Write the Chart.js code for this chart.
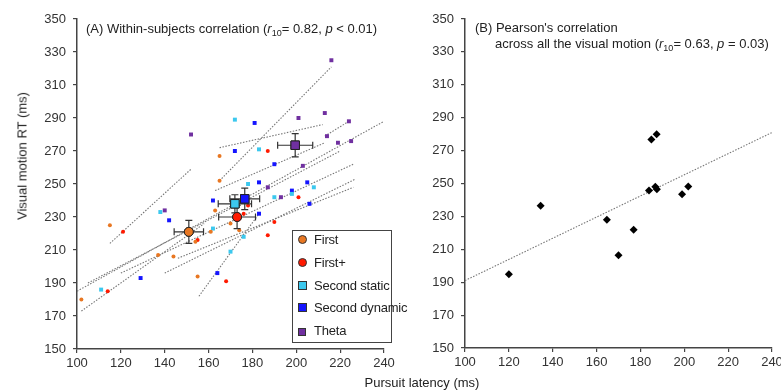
<!DOCTYPE html>
<html>
<head>
<meta charset="utf-8">
<script src="https://cdn.jsdelivr.net/npm/chart.js@4.4.1/dist/chart.umd.min.js"></script>
<style>
  body { margin: 0; background: #fff; width: 781px; height: 391px; overflow: hidden; position: relative;
         font-family: 'Liberation Sans', Arial, sans-serif; color: #222; }
  #wrapA { position: absolute; left: 0; top: 0; }
  #wrapB { position: absolute; left: 390px; top: 0; }
  .note { position: absolute; font-size: 13px; white-space: nowrap; line-height: 15px; }
  .note sub { font-size: 9px; vertical-align: -3px; line-height: 0; }
  #ytitle { position: absolute; left: 22px; top: 156px; font-size: 13px; white-space: nowrap;
            transform: translate(-50%, -50%) rotate(-90deg); }
  #xtitle { position: absolute; left: 422px; top: 382px; font-size: 13px; white-space: nowrap;
            transform: translate(-50%, -50%); }
  #legend { position: absolute; left: 292px; top: 230px; width: 100px; height: 113px;
            border: 1px solid #444; background: #fff; box-sizing: border-box; }
  .item { position: absolute; left: 5px; font-size: 13px; white-space: nowrap; height: 16px; line-height: 16px; }
  .mk { position: absolute; left: 0; top: 3px; width: 9px; height: 9px; border: 1px solid #333; box-sizing: border-box; }
  .item span.t { position: absolute; left: 16px; top: 0; letter-spacing: -0.2px; }
</style>
</head>
<body>
<div id="wrapA"><canvas id="chartA" width="400" height="391"></canvas></div>
<div id="wrapB"><canvas id="chartB" width="400" height="391"></canvas></div>

<div class="note" style="left:86px; top:21px;">(A) Within-subjects correlation (<i>r</i><sub>10</sub>= 0.82, <i>p</i> &lt; 0.01)</div>
<div class="note" style="left:475px; top:20px;">(B) Pearson's correlation</div>
<div class="note" style="left:495px; top:36px;">across all the visual motion (<i>r</i><sub>10</sub>= 0.63, <i>p</i> = 0.03)</div>
<div id="ytitle">Visual motion RT (ms)</div>
<div id="xtitle">Pursuit latency (ms)</div>

<div id="legend">
  <div class="item" style="top:1px"><div class="mk" style="background:#E87722;border-radius:50%"></div><span class="t">First</span></div>
  <div class="item" style="top:24px"><div class="mk" style="background:#FF1A00;border-radius:50%"></div><span class="t">First+</span></div>
  <div class="item" style="top:47px"><div class="mk" style="background:#3CC8EE"></div><span class="t">Second static</span></div>
  <div class="item" style="top:69px"><div class="mk" style="background:#1515FF"></div><span class="t">Second dynamic</span></div>
  <div class="item" style="top:92px"><div class="mk" style="background:#7030A0;width:8px;height:8px;top:5px"></div><span class="t">Theta</span></div>
</div>

<script>
// ---- data (A) : individual subjects, pursuit latency (x) vs visual motion RT (y)
const firstX  = [102, 115, 137, 144, 154, 155, 161, 163, 165, 165, 170, 174];
const firstY  = [180, 225, 207, 206, 215, 194, 221, 234, 267, 252, 226, 222];
const firstPX = [114, 121, 155, 168, 178, 176, 187, 187, 190, 201];
const firstPY = [185, 221, 216, 191, 237, 232, 219, 270, 227, 242];
const staticX = [172, 178, 138, 162, 176, 170, 111, 183, 190, 198, 208];
const staticY = [289, 250, 233, 223, 218, 209, 186, 271, 242, 244, 248];
const dynX    = [181, 172, 162, 142, 129, 164, 183, 190, 205, 198, 206, 183];
const dynY    = [287, 270, 240, 228, 193, 196, 251, 262, 251, 246, 238, 232];
const thetaX  = [152, 216, 201, 213, 224, 140, 187, 214, 219, 225, 203, 193];
const thetaY  = [280, 325, 290, 293, 288, 234, 248, 279, 275, 276, 261, 242];

// group means with SE  [x, y, errX, errY]
const meanFirst  = [151, 221, 6.7, 7];
const meanFirstP = [173, 230, 8.4, 7];
const meanStatic = [172, 238, 7.6, 5.5];
const meanDyn    = [176.5, 241, 6.8, 6.5];
const meanTheta  = [199.5, 273.5, 8, 7];

// per-subject regression lines [x1, y1, x2, y2]
const subjectLines = [
  [100, 185, 240, 288],
  [102, 173, 158, 226],
  [115, 214, 152, 259],
  [165, 252, 216, 321],
  [165, 272, 212, 286],
  [213, 279, 224, 288],
  [155.6, 182, 183, 232],
  [120, 196, 226, 262],
  [140, 196, 227, 253],
  [146, 205, 226, 248],
  [105, 190, 220, 270],
  [163, 246, 213, 275]
];

// ---- data (B) : per-motion means across subjects
const motionX = [120, 134.5, 164.7, 170, 176.9, 183.9, 185, 187.4, 186.8, 187.5, 199, 201.8];
const motionY = [194.8, 236.5, 228, 206.4, 221.9, 245.8, 276.7, 279.9, 248, 246.5, 243.5, 248.2];
const fitB = [100, 191, 240, 281];

const xTickMin = 100, xTickMax = 240, xStep = 20;
const yTickMin = 150, yTickMax = 350, yStep = 20;

const FONT = "'Liberation Sans', Arial, sans-serif";
const AXIS = '#444';

function pts(xs, ys) { return xs.map((x, i) => ({ x: x, y: ys[i] })); }

function axes(yWidth, xHeight) {
  const common = {
    type: 'linear',
    border: { display: true, color: AXIS, width: 1.5 },
    grid: { display: true, drawOnChartArea: false, drawTicks: true, tickLength: 4, color: AXIS, lineWidth: 1.2 },
    ticks: { color: '#333', font: { family: FONT, size: 13 } }
  };
  return {
    x: Object.assign({}, common, {
      min: xTickMin, max: xTickMax,
      ticks: Object.assign({}, common.ticks, { stepSize: xStep, padding: 3, maxRotation: 0 }),
      afterFit: s => { s.height = xHeight; }
    }),
    y: Object.assign({}, common, {
      min: yTickMin, max: yTickMax,
      ticks: Object.assign({}, common.ticks, { stepSize: yStep, padding: 7 }),
      afterFit: s => { s.width = yWidth; }
    })
  };
}

function lineSet(l) {
  return {
    type: 'line', data: [{ x: l[0], y: l[1] }, { x: l[2], y: l[3] }],
    borderColor: '#777', borderWidth: 1.1, borderDash: [1.5, 1.5],
    pointRadius: 0, fill: false, order: 3
  };
}

function dots(xs, ys, color, style, r) {
  return {
    type: 'scatter', data: pts(xs, ys), backgroundColor: color, borderColor: color,
    borderWidth: 0, pointStyle: style, pointRadius: r, order: 2
  };
}

function meanSet(m, color, style, r) {
  return {
    type: 'scatter', data: [{ x: m[0], y: m[1], ex: m[2], ey: m[3] }], backgroundColor: color,
    borderColor: '#222', borderWidth: 1, pointStyle: style, pointRadius: r, order: 0, errorBars: true
  };
}

// draws error bars for mean points, then the markers again on top
const errorBarPlugin = {
  id: 'errorBars',
  afterDatasetsDraw(chart) {
    const ctx = chart.ctx, xs = chart.scales.x, ys = chart.scales.y;
    ctx.save();
    ctx.strokeStyle = '#333';
    ctx.lineWidth = 1.2;
    chart.data.datasets.forEach((ds, i) => {
      if (!ds.errorBars) return;
      ds.data.forEach(p => {
        const cx = xs.getPixelForValue(p.x), cy = ys.getPixelForValue(p.y);
        const x1 = xs.getPixelForValue(p.x - p.ex), x2 = xs.getPixelForValue(p.x + p.ex);
        const y1 = ys.getPixelForValue(p.y - p.ey), y2 = ys.getPixelForValue(p.y + p.ey);
        const cap = 3.5;
        ctx.beginPath();
        ctx.moveTo(x1, cy); ctx.lineTo(x2, cy);
        ctx.moveTo(x1, cy - cap); ctx.lineTo(x1, cy + cap);
        ctx.moveTo(x2, cy - cap); ctx.lineTo(x2, cy + cap);
        ctx.moveTo(cx, y1); ctx.lineTo(cx, y2);
        ctx.moveTo(cx - cap, y1); ctx.lineTo(cx + cap, y1);
        ctx.moveTo(cx - cap, y2); ctx.lineTo(cx + cap, y2);
        ctx.stroke();
      });
    });
    ctx.restore();
    chart.data.datasets.forEach((ds, i) => {
      if (!ds.errorBars) return;
      chart.getDatasetMeta(i).data.forEach(el => el.draw(ctx, chart.chartArea));
    });
  }
};

const baseOptions = (yWidth, xHeight, padRight) => ({
  responsive: false,
  animation: false,
  layout: { padding: { top: 19, right: padRight, left: 0, bottom: 0 } },
  plugins: { legend: { display: false }, tooltip: { enabled: false } },
  scales: axes(yWidth, xHeight)
});

new Chart(document.getElementById('chartA'), {
  type: 'scatter',
  data: {
    datasets: [
      meanSet(meanFirst, '#E87722', 'circle', 4.5),
      meanSet(meanFirstP, '#FF1A00', 'circle', 4.5),
      meanSet(meanStatic, '#3CC8EE', 'rect', 6),
      meanSet(meanDyn, '#1515FF', 'rect', 6),
      meanSet(meanTheta, '#7030A0', 'rect', 6),
      dots(firstX, firstY, '#E87722', 'circle', 2),
      dots(firstPX, firstPY, '#FF1A00', 'circle', 2),
      dots(staticX, staticY, '#3CC8EE', 'rect', 2.8),
      dots(dynX, dynY, '#1515FF', 'rect', 2.8),
      dots(thetaX, thetaY, '#7030A0', 'rect', 2.8)
    ].concat(subjectLines.map(lineSet))
  },
  options: baseOptions(77, 42, 16),
  plugins: [errorBarPlugin]
});

new Chart(document.getElementById('chartB'), {
  type: 'scatter',
  data: {
    datasets: [
      {
        type: 'scatter', data: pts(motionX, motionY), backgroundColor: '#000', borderColor: '#000',
        borderWidth: 0, pointStyle: 'rectRot', pointRadius: 4, order: 0
      },
      lineSet(fitB)
    ]
  },
  options: baseOptions(75, 43, 18)
});
</script>
</body>
</html>
